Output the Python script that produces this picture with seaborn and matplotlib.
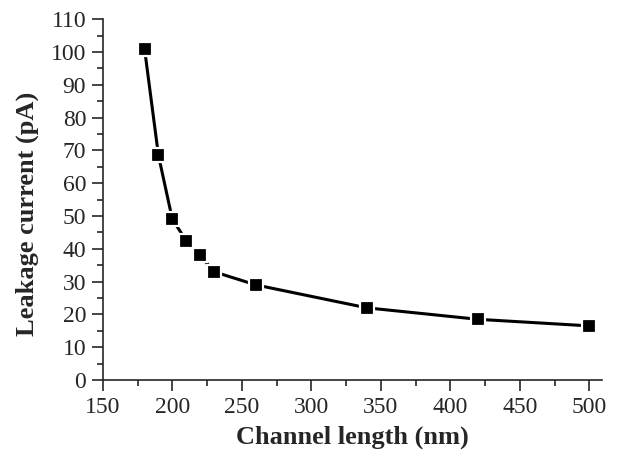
import pandas as pd
import matplotlib.pyplot as plt
import seaborn as sns
from matplotlib.ticker import MultipleLocator

# Werte
channel_length = [180, 190, 200, 210, 220, 230, 260, 340, 420, 500]
leakage_current = [101, 68.5, 49, 42.5, 38, 33, 29, 22, 18.5, 16.5]

df = pd.DataFrame({"length": channel_length, "current": leakage_current})

sns.set_style("ticks")
plt.rcParams["font.family"] = ["Liberation Serif", "DejaVu Serif"]

fig = plt.figure(figsize=(6.27, 4.68), dpi=100)
ax = fig.add_axes([0.164, 0.188, 0.796, 0.771])

sns.lineplot(data=df, x="length", y="current", ax=ax, color="black", linewidth=2.2,
             marker="s", markersize=10.5, markeredgecolor="white", markeredgewidth=1.6,
             markerfacecolor="black")

ax.set_xlim(150, 509)
ax.set_ylim(0, 110)
ax.xaxis.set_major_locator(MultipleLocator(50))
ax.xaxis.set_minor_locator(MultipleLocator(25))
ax.yaxis.set_major_locator(MultipleLocator(10))
ax.yaxis.set_minor_locator(MultipleLocator(5))
ax.tick_params(which="major", direction="out", length=8, width=1.2, labelsize=17, pad=4)
ax.tick_params(which="minor", direction="out", length=4, width=1.2)
for s in ["left", "bottom"]:
    ax.spines[s].set_linewidth(1.2)
sns.despine(ax=ax)

ax.set_xlabel("Channel length (nm)", fontsize=19, fontweight="bold", labelpad=6)
ax.set_ylabel("Leakage current (pA)", fontsize=19, fontweight="bold")
ax.yaxis.set_label_coords(-0.128, 0.46)

fig.savefig("out.png", dpi=100)
